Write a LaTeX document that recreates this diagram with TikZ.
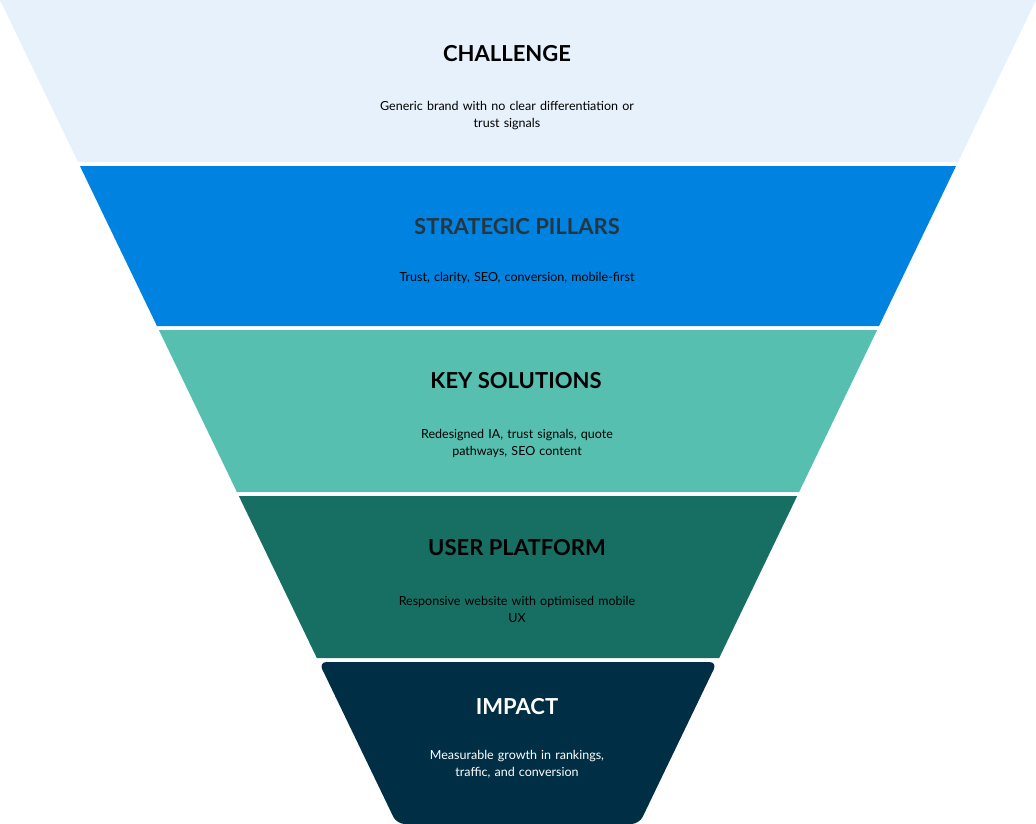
\documentclass[tikz,border=0pt]{standalone}
\usepackage{fontspec}
\setmainfont{Lato}
\definecolor{c1}{HTML}{E6F1FB}
\definecolor{c2}{HTML}{0082E0}
\definecolor{c3}{HTML}{56BFB0}
\definecolor{c4}{HTML}{176F63}
\definecolor{c5}{HTML}{002E44}
\definecolor{t2}{HTML}{263641}
\begin{document}
\begin{tikzpicture}[x=1pt,y=-1pt,
  title/.style={font=\bfseries\fontsize{22}{26}\selectfont,anchor=center},
  body/.style={font=\fontsize{12.5}{17}\selectfont,align=center,anchor=center,text width=#1},
  body/.default=360pt]
\useasboundingbox (0,0) rectangle (1036,824);
\def\k{0.4815}
\newcommand{\band}[3]{%
  \fill[#3] ({\k*#1},#1) -- ({1036-\k*#1},#1) -- ({1036-\k*#2},#2) -- ({\k*#2},#2) -- cycle;}
\band{0}{162}{c1}
\band{166}{326}{c2}
\band{330}{492}{c3}
\band{496}{658}{c4}
\fill[c5,rounded corners=8pt] ({\k*662},662) -- ({1036-\k*662},662) -- ({1036-\k*824},824) -- ({\k*824},824) -- cycle;
\node[title] (t1) at (507,54) {CHALLENGE};
\node[body] (b1) at (507,116) {Generic brand with no clear differentiation or\\trust signals};
\node[title,text=t2] (t2) at (517,227) {STRATEGIC PILLARS};
\node[body=420pt] (b2) at (517,278) {Trust, clarity, SEO, conversion, mobile-first};
\node[title] (t3) at (516,381) {KEY SOLUTIONS};
\node[body] (b3) at (517,443) {Redesigned IA, trust signals, quote\\pathways, SEO content};
\node[title] (t4) at (517,548) {USER PLATFORM};
\node[body] (b4) at (517,609) {Responsive website with optimised mobile\\UX};
\node[title,text=white] (t5) at (517,707) {IMPACT};
\node[body,text=white] (b5) at (517,764) {Measurable growth in rankings,\\traffic, and conversion};
\end{tikzpicture}
\end{document}
